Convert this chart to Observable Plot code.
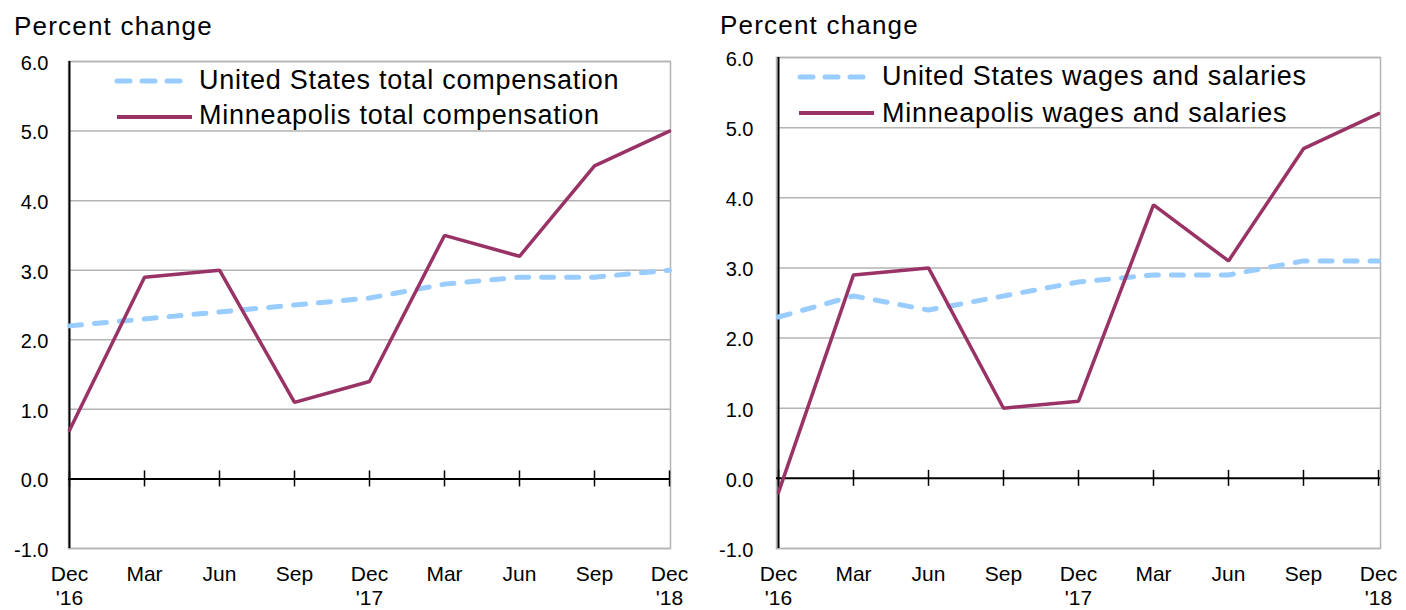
<!DOCTYPE html>
<html>
<head>
<meta charset="utf-8">
<script src="https://cdn.jsdelivr.net/npm/d3@7"></script>
<script src="https://cdn.jsdelivr.net/npm/@observablehq/plot@0.6"></script>
<style>
  html, body { margin: 0; padding: 0; background: #fff; }
  #wrap { position: relative; width: 1406px; height: 610px; overflow: hidden; font-family: 'Liberation Sans', Arial, sans-serif; color: #000; }
  .title { position: absolute; font-size: 26px; line-height: 26px; letter-spacing: 1.2px; white-space: nowrap; }
  .plotbox { position: absolute; top: 48px; }
  .leg { position: absolute; font-size: 27px; line-height: 27px; letter-spacing: 0.75px; white-space: nowrap; }
  .sw { position: absolute; }
</style>
</head>
<body>
<div id="wrap"></div>
<script>
// ---- Data ----
const periods = ["2016-12","2017-03","2017-06","2017-09","2017-12","2018-03","2018-06","2018-09","2018-12"];
const periodLabels = ["Dec\n'16","Mar","Jun","Sep","Dec\n'17","Mar","Jun","Sep","Dec\n'18"];
const yTicks = [-1, 0, 1, 2, 3, 4, 5, 6];

const usTotalComp   = [2.2, 2.3, 2.4, 2.5, 2.6, 2.8, 2.9, 2.9, 3.0];
const mplsTotalComp = [0.7, 2.9, 3.0, 1.1, 1.4, 3.5, 3.2, 4.5, 5.0];
const usWages       = [2.3, 2.6, 2.4, 2.6, 2.8, 2.9, 2.9, 3.1, 3.1];
const mplsWages     = [-0.2, 2.9, 3.0, 1.0, 1.1, 3.9, 3.1, 4.7, 5.2];

const seriesNames = [
  ["United States total compensation", "Minneapolis total compensation"],
  ["United States wages and salaries", "Minneapolis wages and salaries"]
];
const yTitle = "Percent change";

// ---- Styles ----
const usColor = "#99ccff";
const mplsColor = "#993366";
const gridColor = "#b4b4b4";

function makePanel(cfg) {
  const wrap = document.getElementById("wrap");
  const toRows = vals => periods.map((p, i) => ({period: p, value: vals[i]}));

  const chart = Plot.plot({
    width: 703,
    height: 562,
    marginLeft: cfg.mLeft,
    marginRight: cfg.mRight,
    marginTop: cfg.mTop,
    marginBottom: 62,
    x: {type: "point", domain: periods, padding: 0, label: null},
    y: {domain: [-1, 6], label: null},
    style: {fontFamily: "'Liberation Sans', Arial, sans-serif", fontSize: "21px", color: "#000", background: "transparent", overflow: "visible"},
    marks: [
      Plot.frame({stroke: gridColor, strokeWidth: 1.5}),
      Plot.ruleY(yTicks.filter(d => d !== 0), {stroke: gridColor, strokeWidth: 1.5}),
      Plot.ruleY([0], {stroke: "#000", strokeWidth: 2}),
      Plot.ruleX(periods, {x: d => d, y1: 0, y2: 0, insetTop: -8, insetBottom: -8, stroke: "#000", strokeWidth: 1.5}),
      Plot.ruleX([periods[0]], {stroke: "#000", strokeWidth: 2}),
      Plot.line(toRows(cfg.us), {x: "period", y: "value", stroke: usColor, strokeWidth: 5, strokeDasharray: "12,13", strokeLinecap: "round"}),
      Plot.line(toRows(cfg.mpls), {x: "period", y: "value", stroke: mplsColor, strokeWidth: 3.5, strokeLinejoin: "miter"}),
      Plot.axisY({ticks: yTicks, tickFormat: d => d.toFixed(1), tickSize: 0, tickPadding: cfg.yPad, fontSize: 20, dy: 2, label: null}),
      Plot.axisX({tickSize: 0, tickPadding: 15, lineHeight: 1.15, fontSize: 21, label: null,
        tickFormat: d => periodLabels[periods.indexOf(d)]})
    ]
  });

  const box = document.createElement("div");
  box.className = "plotbox";
  box.style.left = cfg.left + "px";
  box.appendChild(chart);
  wrap.appendChild(box);

  const t = document.createElement("div");
  t.className = "title";
  t.textContent = yTitle;
  t.style.left = cfg.titleX + "px";
  t.style.top = cfg.titleTop + "px";
  wrap.appendChild(t);

  // Legend
  const leg = cfg.legend;
  const mk = (html, x, y) => {
    const d = document.createElement("div");
    d.innerHTML = html;
    const el = d.firstElementChild;
    el.style.left = x + "px";
    el.style.top = y + "px";
    wrap.appendChild(el);
  };
  mk(`<svg class="sw" width="80" height="12"><line x1="3" y1="6" x2="68" y2="6" stroke="${usColor}" stroke-width="5" stroke-dasharray="13,12" stroke-linecap="round"/></svg>`, leg.sw1x - 1, leg.sw1y - 6);
  mk(`<svg class="sw" width="80" height="12"><line x1="0" y1="6" x2="75" y2="6" stroke="${mplsColor}" stroke-width="4"/></svg>`, leg.sw2x, leg.sw2y - 6);
  mk(`<div class="leg">${cfg.names[0]}</div>`, leg.tx, leg.t1c - 13);
  mk(`<div class="leg">${cfg.names[1]}</div>`, leg.tx, leg.t2c - 13);
}

makePanel({
  left: 0, mLeft: 68, mRight: 33, mTop: 13, yPad: 20,
  titleX: 14, titleTop: 13,
  us: usTotalComp, mpls: mplsTotalComp, names: seriesNames[0],
  legend: {sw1x: 115, sw1y: 81, sw2x: 117, sw2y: 117, tx: 199, t1c: 80, t2c: 115}
});
makePanel({
  left: 703, mLeft: 73, mRight: 26, mTop: 9, yPad: 23,
  titleX: 720, titleTop: 12,
  us: usWages, mpls: mplsWages, names: seriesNames[1],
  legend: {sw1x: 798, sw1y: 77, sw2x: 799, sw2y: 113, tx: 882, t1c: 76, t2c: 113}
});
</script>
</body>
</html>
